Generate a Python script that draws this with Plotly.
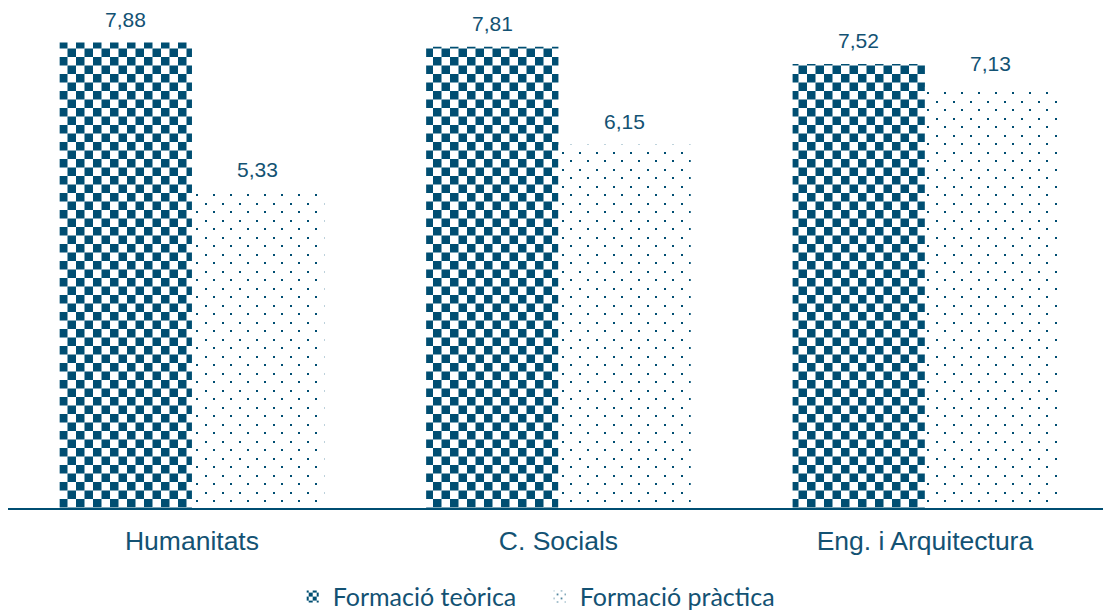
import plotly.graph_objects as go

categories = ["Humanitats", "C. Socials", "Eng. i Arquitectura"]
teorica = [7.88, 7.81, 7.52]
practica = [5.33, 6.15, 7.13]
series_names = ["Formació teòrica", "Formació pràctica"]

BLUE = "#004e72"
TEXT = "#135273"

fig = go.Figure()
fig.add_trace(go.Bar(
    x=categories, y=teorica, name=series_names[0],
    marker=dict(color="#ffffff", line=dict(width=0),
                pattern=dict(shape="x", fgcolor=BLUE, bgcolor="#ffffff",
                             fillmode="replace", size=17, solidity=0.5)),
))
fig.add_trace(go.Bar(
    x=categories, y=practica, name=series_names[1],
    marker=dict(color="#ffffff", line=dict(width=0),
                pattern=dict(shape=".", fgcolor=BLUE, bgcolor="#ffffff",
                             fillmode="replace", size=9, solidity=0.05)),
))

annotations = []
for vals, shift in ((teorica, -66), (practica, 66)):
    for c, v in zip(categories, vals):
        annotations.append(dict(
            x=c, y=v, xref="x", yref="y", text=f"{v:.2f}".replace(".", ","),
            showarrow=False, xshift=shift, yshift=10, yanchor="bottom",
            font=dict(family="Liberation Sans, Arial", size=21, color=TEXT),
        ))

fig.update_layout(
    width=1103, height=612,
    margin=dict(l=8, r=0, t=6, b=104, autoexpand=False),
    paper_bgcolor="white", plot_bgcolor="white",
    barmode="group", bargap=0.278, bargroupgap=0,
    showlegend=True,
    legend=dict(orientation="h", x=0.26, xanchor="left", y=-0.177, yanchor="middle",
                font=dict(family="Lato", size=25, color=TEXT),
                entrywidth=202, entrywidthmode="pixels",
                itemclick=False, itemdoubleclick=False),
    annotations=annotations,
    xaxis=dict(range=[-0.502, 2.486], showline=True, linecolor=BLUE, linewidth=2,
               ticks="", showgrid=False, zeroline=False, ticklabelstandoff=8,
               tickfont=dict(family="Liberation Sans, Arial", size=26.5, color=TEXT)),
    yaxis=dict(range=[0, 8.5], visible=False, showgrid=False, zeroline=False),
)

post = """
document.documentElement.style.margin = '0';
document.body.style.margin = '0';
document.body.style.padding = '0';
var gd = document.getElementById('{plot_id}');
var NS = 'http://www.w3.org/2000/svg';
function mk(tag, attrs){ var e = document.createElementNS(NS, tag); for (var k in attrs) e.setAttribute(k, attrs[k]); return e; }
function fixPatterns(){
  document.querySelectorAll('pattern').forEach(function(p){
    if (p.querySelector('.custom-pat')) return;
    var isChecker = !!p.querySelector('path');
    var isDot = !!p.querySelector('circle');
    if (!isChecker && !isDot) return;
    var legend = (p.id || '').indexOf('legend') >= 0;
    var s = legend ? 8 : 17;
    var h = s / 2;
    while (p.firstChild) p.removeChild(p.firstChild);
    p.setAttribute('width', s); p.setAttribute('height', s);
    p.setAttribute('patternUnits', 'userSpaceOnUse');
    p.removeAttribute('patternTransform');
    p.appendChild(mk('rect', {'class': 'custom-pat', x: 0, y: 0, width: s, height: s, fill: '#ffffff'}));
    if (isChecker) {
      p.appendChild(mk('rect', {x: 0, y: 0, width: h, height: h, fill: '#004e72'}));
      p.appendChild(mk('rect', {x: h, y: h, width: h, height: h, fill: '#004e72'}));
    } else {
      var d = legend ? 1.5 : 2;
      var o = legend ? 4 : 9;
      p.appendChild(mk('rect', {x: 1, y: 1, width: d, height: d, fill: '#004e72'}));
      p.appendChild(mk('rect', {x: 1 + o, y: 1 + o, width: d, height: d, fill: '#004e72'}));
    }
  });
}
fixPatterns();
if (gd && gd.on) gd.on('plotly_afterplot', fixPatterns);
"""

fig.write_html("out.html", post_script=post, config={"displayModeBar": False})
